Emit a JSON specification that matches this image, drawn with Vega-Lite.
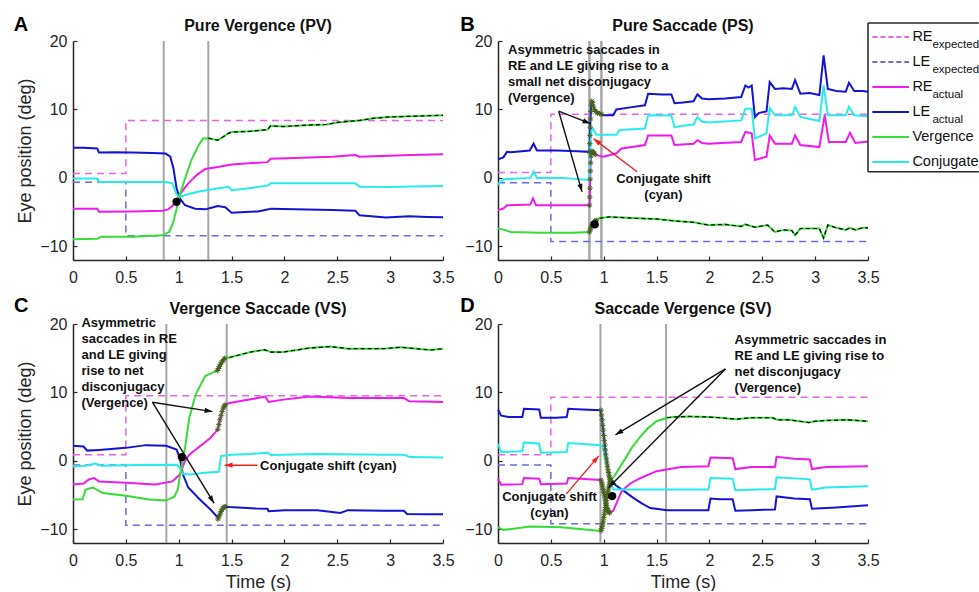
{
"$schema":"https://vega.github.io/schema/vega-lite/v6.json",
"padding":{"left":13,"top":15,"right":0,"bottom":0},
"background":"white",
"config":{
 "view":{"stroke":null},
 "font":"Liberation Sans",
 "axis":{"grid":false,"domainColor":"#262626","domainWidth":1.5,"tickColor":"#262626","tickWidth":1.2,"tickSize":-4,"labelFont":"Liberation Sans","labelFontSize":16,"labelColor":"#262626","titleFont":"Liberation Sans","titleFontSize":18,"titleFontWeight":"normal","titleColor":"#262626","labelFlush":false,"labelOverlap":false},
 "axisX":{"labelPadding":13,"titlePadding":5},
 "axisY":{"labelPadding":10,"titlePadding":5}
},
"datasets":{
"tr":[
{"p":"A","s":"REe","t":0,"v":0.65},{"p":"A","s":"REe","t":0.5,"v":8.4},{"p":"A","s":"REe","t":3.5,"v":8.4},
{"p":"A","s":"LEe","t":0,"v":-0.65},{"p":"A","s":"LEe","t":0.5,"v":-8.45},{"p":"A","s":"LEe","t":3.5,"v":-8.45},
{"p":"A","s":"LEa","t":0,"v":4.4},{"p":"A","s":"LEa","t":0.1,"v":4.4},{"p":"A","s":"LEa","t":0.23,"v":4.3},{"p":"A","s":"LEa","t":0.245,"v":3.7},{"p":"A","s":"LEa","t":0.4,"v":3.75},{"p":"A","s":"LEa","t":0.56,"v":3.7},{"p":"A","s":"LEa","t":0.75,"v":3.65},{"p":"A","s":"LEa","t":0.876,"v":3.55},{"p":"A","s":"LEa","t":0.92,"v":3.1},{"p":"A","s":"LEa","t":0.95,"v":1.4},{"p":"A","s":"LEa","t":0.98,"v":-1.55},{"p":"A","s":"LEa","t":1.01,"v":-3.0},{"p":"A","s":"LEa","t":1.06,"v":-4.0},{"p":"A","s":"LEa","t":1.155,"v":-4.5},{"p":"A","s":"LEa","t":1.25,"v":-4.6},{"p":"A","s":"LEa","t":1.3,"v":-4.4},{"p":"A","s":"LEa","t":1.37,"v":-4.1},{"p":"A","s":"LEa","t":1.44,"v":-4.3},{"p":"A","s":"LEa","t":1.5,"v":-5.1},{"p":"A","s":"LEa","t":1.63,"v":-5.0},{"p":"A","s":"LEa","t":1.75,"v":-4.9},{"p":"A","s":"LEa","t":1.85,"v":-4.6},{"p":"A","s":"LEa","t":1.87,"v":-4.5},{"p":"A","s":"LEa","t":2.1,"v":-4.6},{"p":"A","s":"LEa","t":2.45,"v":-4.7},{"p":"A","s":"LEa","t":2.67,"v":-4.8},{"p":"A","s":"LEa","t":2.71,"v":-5.45},{"p":"A","s":"LEa","t":2.96,"v":-5.8},{"p":"A","s":"LEa","t":3.18,"v":-5.6},{"p":"A","s":"LEa","t":3.35,"v":-5.7},{"p":"A","s":"LEa","t":3.5,"v":-5.75},
{"p":"A","s":"REa","t":0,"v":-4.5},{"p":"A","s":"REa","t":0.23,"v":-4.5},{"p":"A","s":"REa","t":0.246,"v":-4.95},{"p":"A","s":"REa","t":0.56,"v":-4.9},{"p":"A","s":"REa","t":0.845,"v":-4.8},{"p":"A","s":"REa","t":0.9,"v":-4.6},{"p":"A","s":"REa","t":0.94,"v":-4.1},{"p":"A","s":"REa","t":0.98,"v":-3.25},{"p":"A","s":"REa","t":1.03,"v":-2.0},{"p":"A","s":"REa","t":1.09,"v":-0.8},{"p":"A","s":"REa","t":1.17,"v":0.4},{"p":"A","s":"REa","t":1.25,"v":1.3},{"p":"A","s":"REa","t":1.37,"v":1.6},{"p":"A","s":"REa","t":1.5,"v":1.95},{"p":"A","s":"REa","t":1.63,"v":2.1},{"p":"A","s":"REa","t":1.84,"v":2.3},{"p":"A","s":"REa","t":1.87,"v":2.8},{"p":"A","s":"REa","t":2.1,"v":2.9},{"p":"A","s":"REa","t":2.45,"v":3.1},{"p":"A","s":"REa","t":2.67,"v":3.35},{"p":"A","s":"REa","t":2.71,"v":3.1},{"p":"A","s":"REa","t":2.99,"v":3.25},{"p":"A","s":"REa","t":3.2,"v":3.35},{"p":"A","s":"REa","t":3.5,"v":3.45},
{"p":"A","s":"Conj","t":0,"v":-0.1},{"p":"A","s":"Conj","t":0.23,"v":-0.1},{"p":"A","s":"Conj","t":0.246,"v":-0.6},{"p":"A","s":"Conj","t":0.6,"v":-0.6},{"p":"A","s":"Conj","t":0.876,"v":-0.6},{"p":"A","s":"Conj","t":0.94,"v":-0.8},{"p":"A","s":"Conj","t":0.98,"v":-2.4},{"p":"A","s":"Conj","t":1.01,"v":-2.8},{"p":"A","s":"Conj","t":1.06,"v":-2.5},{"p":"A","s":"Conj","t":1.19,"v":-2.0},{"p":"A","s":"Conj","t":1.32,"v":-1.65},{"p":"A","s":"Conj","t":1.47,"v":-1.3},{"p":"A","s":"Conj","t":1.5,"v":-1.8},{"p":"A","s":"Conj","t":1.63,"v":-1.6},{"p":"A","s":"Conj","t":1.85,"v":-1.1},{"p":"A","s":"Conj","t":1.87,"v":-0.8},{"p":"A","s":"Conj","t":2.2,"v":-0.8},{"p":"A","s":"Conj","t":2.67,"v":-0.8},{"p":"A","s":"Conj","t":2.71,"v":-1.3},{"p":"A","s":"Conj","t":2.99,"v":-1.35},{"p":"A","s":"Conj","t":3.2,"v":-1.25},{"p":"A","s":"Conj","t":3.5,"v":-1.2},
{"p":"A","s":"Verg","t":0,"v":-8.95},{"p":"A","s":"Verg","t":0.23,"v":-8.9},{"p":"A","s":"Verg","t":0.26,"v":-8.6},{"p":"A","s":"Verg","t":0.56,"v":-8.6},{"p":"A","s":"Verg","t":0.845,"v":-8.4},{"p":"A","s":"Verg","t":0.91,"v":-7.9},{"p":"A","s":"Verg","t":0.95,"v":-6.4},{"p":"A","s":"Verg","t":0.98,"v":-4.5},{"p":"A","s":"Verg","t":1.01,"v":-2.5},{"p":"A","s":"Verg","t":1.06,"v":-0.1},{"p":"A","s":"Verg","t":1.12,"v":2.6},{"p":"A","s":"Verg","t":1.19,"v":4.8},{"p":"A","s":"Verg","t":1.23,"v":5.75},{"p":"A","s":"Verg","t":1.28,"v":5.8},{"p":"A","s":"Verg","t":1.37,"v":5.5},{"p":"A","s":"Verg","t":1.47,"v":6.5},{"p":"A","s":"Verg","t":1.5,"v":6.7},{"p":"A","s":"Verg","t":1.68,"v":6.8},{"p":"A","s":"Verg","t":1.84,"v":7.05},{"p":"A","s":"Verg","t":1.87,"v":7.6},{"p":"A","s":"Verg","t":1.99,"v":7.5},{"p":"A","s":"Verg","t":2.2,"v":7.7},{"p":"A","s":"Verg","t":2.4,"v":7.8},{"p":"A","s":"Verg","t":2.5,"v":8.1},{"p":"A","s":"Verg","t":2.71,"v":8.4},{"p":"A","s":"Verg","t":2.84,"v":8.7},{"p":"A","s":"Verg","t":2.99,"v":8.9},{"p":"A","s":"Verg","t":3.2,"v":9.0},{"p":"A","s":"Verg","t":3.5,"v":9.15},
{"p":"B","s":"REe","t":0,"v":0.8},{"p":"B","s":"REe","t":0.5,"v":9.3},{"p":"B","s":"REe","t":3.5,"v":9.3},
{"p":"B","s":"LEe","t":0,"v":-0.7},{"p":"B","s":"LEe","t":0.5,"v":-9.3},{"p":"B","s":"LEe","t":3.5,"v":-9.3},
{"p":"B","s":"LEa","t":0,"v":2.7},{"p":"B","s":"LEa","t":0.05,"v":3.0},{"p":"B","s":"LEa","t":0.085,"v":3.8},{"p":"B","s":"LEa","t":0.12,"v":3.75},{"p":"B","s":"LEa","t":0.3,"v":4.0},{"p":"B","s":"LEa","t":0.337,"v":5.0},{"p":"B","s":"LEa","t":0.368,"v":4.0},{"p":"B","s":"LEa","t":0.557,"v":4.0},{"p":"B","s":"LEa","t":0.75,"v":3.9},{"p":"B","s":"LEa","t":0.866,"v":3.8},{"p":"B","s":"LEa","t":0.87,"v":6.2},{"p":"B","s":"LEa","t":0.875,"v":8.6},{"p":"B","s":"LEa","t":0.882,"v":10.6},{"p":"B","s":"LEa","t":0.887,"v":11.2},{"p":"B","s":"LEa","t":0.9,"v":10.5},{"p":"B","s":"LEa","t":0.925,"v":9.7},{"p":"B","s":"LEa","t":0.96,"v":9.4},{"p":"B","s":"LEa","t":0.998,"v":9.15},{"p":"B","s":"LEa","t":1.09,"v":9.15},{"p":"B","s":"LEa","t":1.12,"v":10.0},{"p":"B","s":"LEa","t":1.25,"v":10.3},{"p":"B","s":"LEa","t":1.39,"v":10.6},{"p":"B","s":"LEa","t":1.42,"v":12.3},{"p":"B","s":"LEa","t":1.55,"v":12.2},{"p":"B","s":"LEa","t":1.64,"v":12.2},{"p":"B","s":"LEa","t":1.67,"v":10.9},{"p":"B","s":"LEa","t":1.75,"v":11.0},{"p":"B","s":"LEa","t":1.85,"v":11.2},{"p":"B","s":"LEa","t":1.886,"v":12.2},{"p":"B","s":"LEa","t":1.93,"v":11.6},{"p":"B","s":"LEa","t":1.99,"v":11.5},{"p":"B","s":"LEa","t":2.15,"v":11.6},{"p":"B","s":"LEa","t":2.3,"v":11.8},{"p":"B","s":"LEa","t":2.34,"v":13.5},{"p":"B","s":"LEa","t":2.37,"v":13.2},{"p":"B","s":"LEa","t":2.4,"v":13.5},{"p":"B","s":"LEa","t":2.43,"v":8.9},{"p":"B","s":"LEa","t":2.47,"v":9.5},{"p":"B","s":"LEa","t":2.54,"v":9.7},{"p":"B","s":"LEa","t":2.57,"v":14.0},{"p":"B","s":"LEa","t":2.62,"v":13.0},{"p":"B","s":"LEa","t":2.7,"v":13.1},{"p":"B","s":"LEa","t":2.78,"v":13.0},{"p":"B","s":"LEa","t":2.81,"v":14.3},{"p":"B","s":"LEa","t":2.86,"v":12.3},{"p":"B","s":"LEa","t":2.95,"v":12.4},{"p":"B","s":"LEa","t":3.04,"v":12.1},{"p":"B","s":"LEa","t":3.08,"v":17.9},{"p":"B","s":"LEa","t":3.12,"v":13.0},{"p":"B","s":"LEa","t":3.2,"v":12.7},{"p":"B","s":"LEa","t":3.29,"v":12.6},{"p":"B","s":"LEa","t":3.32,"v":13.9},{"p":"B","s":"LEa","t":3.37,"v":12.7},{"p":"B","s":"LEa","t":3.45,"v":12.7},{"p":"B","s":"LEa","t":3.5,"v":12.6},
{"p":"B","s":"REa","t":0,"v":-4.7},{"p":"B","s":"REa","t":0.05,"v":-4.5},{"p":"B","s":"REa","t":0.085,"v":-4.0},{"p":"B","s":"REa","t":0.305,"v":-3.9},{"p":"B","s":"REa","t":0.33,"v":-3.0},{"p":"B","s":"REa","t":0.36,"v":-4.0},{"p":"B","s":"REa","t":0.6,"v":-4.0},{"p":"B","s":"REa","t":0.866,"v":-4.0},{"p":"B","s":"REa","t":0.87,"v":-1.5},{"p":"B","s":"REa","t":0.876,"v":2.2},{"p":"B","s":"REa","t":0.884,"v":3.7},{"p":"B","s":"REa","t":0.9,"v":3.8},{"p":"B","s":"REa","t":0.92,"v":3.4},{"p":"B","s":"REa","t":0.998,"v":3.1},{"p":"B","s":"REa","t":1.12,"v":3.6},{"p":"B","s":"REa","t":1.17,"v":4.3},{"p":"B","s":"REa","t":1.39,"v":4.8},{"p":"B","s":"REa","t":1.42,"v":6.2},{"p":"B","s":"REa","t":1.64,"v":6.2},{"p":"B","s":"REa","t":1.67,"v":4.8},{"p":"B","s":"REa","t":1.85,"v":5.0},{"p":"B","s":"REa","t":1.886,"v":5.5},{"p":"B","s":"REa","t":1.93,"v":5.1},{"p":"B","s":"REa","t":1.99,"v":5.0},{"p":"B","s":"REa","t":2.3,"v":5.25},{"p":"B","s":"REa","t":2.34,"v":6.7},{"p":"B","s":"REa","t":2.4,"v":6.5},{"p":"B","s":"REa","t":2.43,"v":2.6},{"p":"B","s":"REa","t":2.54,"v":3.1},{"p":"B","s":"REa","t":2.57,"v":6.2},{"p":"B","s":"REa","t":2.62,"v":5.0},{"p":"B","s":"REa","t":2.78,"v":5.0},{"p":"B","s":"REa","t":2.81,"v":6.2},{"p":"B","s":"REa","t":2.86,"v":4.8},{"p":"B","s":"REa","t":3.04,"v":4.5},{"p":"B","s":"REa","t":3.09,"v":9.15},{"p":"B","s":"REa","t":3.13,"v":5.25},{"p":"B","s":"REa","t":3.29,"v":5.25},{"p":"B","s":"REa","t":3.33,"v":6.6},{"p":"B","s":"REa","t":3.38,"v":5.1},{"p":"B","s":"REa","t":3.5,"v":5.3},
{"p":"B","s":"Conj","t":0,"v":-1.0},{"p":"B","s":"Conj","t":0.05,"v":-0.2},{"p":"B","s":"Conj","t":0.305,"v":0.0},{"p":"B","s":"Conj","t":0.337,"v":0.9},{"p":"B","s":"Conj","t":0.368,"v":0.0},{"p":"B","s":"Conj","t":0.6,"v":0.0},{"p":"B","s":"Conj","t":0.866,"v":-0.3},{"p":"B","s":"Conj","t":0.87,"v":2.3},{"p":"B","s":"Conj","t":0.876,"v":5.4},{"p":"B","s":"Conj","t":0.884,"v":7.0},{"p":"B","s":"Conj","t":0.898,"v":7.2},{"p":"B","s":"Conj","t":0.93,"v":6.3},{"p":"B","s":"Conj","t":0.998,"v":6.3},{"p":"B","s":"Conj","t":1.12,"v":6.3},{"p":"B","s":"Conj","t":1.15,"v":7.0},{"p":"B","s":"Conj","t":1.39,"v":7.2},{"p":"B","s":"Conj","t":1.42,"v":9.15},{"p":"B","s":"Conj","t":1.64,"v":9.1},{"p":"B","s":"Conj","t":1.67,"v":7.4},{"p":"B","s":"Conj","t":1.75,"v":7.6},{"p":"B","s":"Conj","t":1.85,"v":7.8},{"p":"B","s":"Conj","t":1.886,"v":8.9},{"p":"B","s":"Conj","t":1.93,"v":8.2},{"p":"B","s":"Conj","t":1.99,"v":8.1},{"p":"B","s":"Conj","t":2.3,"v":8.4},{"p":"B","s":"Conj","t":2.34,"v":10.1},{"p":"B","s":"Conj","t":2.4,"v":10.1},{"p":"B","s":"Conj","t":2.43,"v":5.75},{"p":"B","s":"Conj","t":2.54,"v":6.5},{"p":"B","s":"Conj","t":2.57,"v":10.2},{"p":"B","s":"Conj","t":2.62,"v":9.15},{"p":"B","s":"Conj","t":2.78,"v":9.15},{"p":"B","s":"Conj","t":2.81,"v":10.4},{"p":"B","s":"Conj","t":2.86,"v":8.9},{"p":"B","s":"Conj","t":3.04,"v":8.3},{"p":"B","s":"Conj","t":3.08,"v":13.5},{"p":"B","s":"Conj","t":3.12,"v":9.15},{"p":"B","s":"Conj","t":3.29,"v":9.15},{"p":"B","s":"Conj","t":3.32,"v":10.4},{"p":"B","s":"Conj","t":3.37,"v":9.15},{"p":"B","s":"Conj","t":3.5,"v":9.0},
{"p":"B","s":"Verg","t":0,"v":-7.4},{"p":"B","s":"Verg","t":0.06,"v":-7.6},{"p":"B","s":"Verg","t":0.12,"v":-7.9},{"p":"B","s":"Verg","t":0.4,"v":-8.0},{"p":"B","s":"Verg","t":0.7,"v":-8.0},{"p":"B","s":"Verg","t":0.866,"v":-7.9},{"p":"B","s":"Verg","t":0.885,"v":-7.0},{"p":"B","s":"Verg","t":0.9,"v":-6.6},{"p":"B","s":"Verg","t":0.93,"v":-6.2},{"p":"B","s":"Verg","t":0.96,"v":-5.9},{"p":"B","s":"Verg","t":1.05,"v":-5.7},{"p":"B","s":"Verg","t":1.18,"v":-5.8},{"p":"B","s":"Verg","t":1.3,"v":-5.9},{"p":"B","s":"Verg","t":1.5,"v":-6.0},{"p":"B","s":"Verg","t":1.68,"v":-6.3},{"p":"B","s":"Verg","t":1.85,"v":-6.5},{"p":"B","s":"Verg","t":1.99,"v":-6.9},{"p":"B","s":"Verg","t":2.15,"v":-6.8},{"p":"B","s":"Verg","t":2.3,"v":-7.1},{"p":"B","s":"Verg","t":2.34,"v":-6.8},{"p":"B","s":"Verg","t":2.43,"v":-7.2},{"p":"B","s":"Verg","t":2.55,"v":-6.9},{"p":"B","s":"Verg","t":2.62,"v":-7.9},{"p":"B","s":"Verg","t":2.7,"v":-7.6},{"p":"B","s":"Verg","t":2.78,"v":-7.7},{"p":"B","s":"Verg","t":2.81,"v":-8.4},{"p":"B","s":"Verg","t":2.86,"v":-7.4},{"p":"B","s":"Verg","t":3.04,"v":-7.4},{"p":"B","s":"Verg","t":3.08,"v":-8.8},{"p":"B","s":"Verg","t":3.12,"v":-6.9},{"p":"B","s":"Verg","t":3.2,"v":-7.3},{"p":"B","s":"Verg","t":3.29,"v":-7.6},{"p":"B","s":"Verg","t":3.33,"v":-7.3},{"p":"B","s":"Verg","t":3.38,"v":-7.6},{"p":"B","s":"Verg","t":3.45,"v":-7.3},{"p":"B","s":"Verg","t":3.5,"v":-7.3},
{"p":"C","s":"REe","t":0,"v":0.9},{"p":"C","s":"REe","t":0.5,"v":9.5},{"p":"C","s":"REe","t":3.5,"v":9.5},
{"p":"C","s":"LEe","t":0,"v":-0.6},{"p":"C","s":"LEe","t":0.5,"v":-9.4},{"p":"C","s":"LEe","t":3.5,"v":-9.4},
{"p":"C","s":"LEa","t":0,"v":2.2},{"p":"C","s":"LEa","t":0.1,"v":2.1},{"p":"C","s":"LEa","t":0.135,"v":1.5},{"p":"C","s":"LEa","t":0.245,"v":1.6},{"p":"C","s":"LEa","t":0.5,"v":1.9},{"p":"C","s":"LEa","t":0.69,"v":2.3},{"p":"C","s":"LEa","t":0.88,"v":2.2},{"p":"C","s":"LEa","t":0.98,"v":1.65},{"p":"C","s":"LEa","t":1.01,"v":0.4},{"p":"C","s":"LEa","t":1.04,"v":-2.0},{"p":"C","s":"LEa","t":1.09,"v":-3.9},{"p":"C","s":"LEa","t":1.2,"v":-5.65},{"p":"C","s":"LEa","t":1.3,"v":-7.1},{"p":"C","s":"LEa","t":1.37,"v":-8.3},{"p":"C","s":"LEa","t":1.39,"v":-7.8},{"p":"C","s":"LEa","t":1.42,"v":-6.9},{"p":"C","s":"LEa","t":1.445,"v":-6.7},{"p":"C","s":"LEa","t":1.48,"v":-6.75},{"p":"C","s":"LEa","t":1.73,"v":-6.95},{"p":"C","s":"LEa","t":1.84,"v":-7.0},{"p":"C","s":"LEa","t":1.85,"v":-7.35},{"p":"C","s":"LEa","t":2.0,"v":-7.2},{"p":"C","s":"LEa","t":2.31,"v":-7.2},{"p":"C","s":"LEa","t":2.53,"v":-7.6},{"p":"C","s":"LEa","t":2.6,"v":-7.2},{"p":"C","s":"LEa","t":2.94,"v":-7.3},{"p":"C","s":"LEa","t":3.13,"v":-7.3},{"p":"C","s":"LEa","t":3.16,"v":-7.75},{"p":"C","s":"LEa","t":3.35,"v":-7.8},{"p":"C","s":"LEa","t":3.5,"v":-7.8},
{"p":"C","s":"REa","t":0,"v":-3.45},{"p":"C","s":"REa","t":0.1,"v":-3.3},{"p":"C","s":"REa","t":0.15,"v":-2.7},{"p":"C","s":"REa","t":0.2,"v":-2.5},{"p":"C","s":"REa","t":0.245,"v":-3.0},{"p":"C","s":"REa","t":0.5,"v":-3.2},{"p":"C","s":"REa","t":0.78,"v":-3.45},{"p":"C","s":"REa","t":0.94,"v":-3.0},{"p":"C","s":"REa","t":1.01,"v":-2.0},{"p":"C","s":"REa","t":1.06,"v":0.0},{"p":"C","s":"REa","t":1.1,"v":0.9},{"p":"C","s":"REa","t":1.2,"v":2.15},{"p":"C","s":"REa","t":1.3,"v":3.35},{"p":"C","s":"REa","t":1.37,"v":4.6},{"p":"C","s":"REa","t":1.39,"v":6.0},{"p":"C","s":"REa","t":1.42,"v":7.7},{"p":"C","s":"REa","t":1.445,"v":8.2},{"p":"C","s":"REa","t":1.48,"v":8.45},{"p":"C","s":"REa","t":1.68,"v":9.0},{"p":"C","s":"REa","t":1.82,"v":9.4},{"p":"C","s":"REa","t":1.85,"v":8.6},{"p":"C","s":"REa","t":1.99,"v":8.95},{"p":"C","s":"REa","t":2.24,"v":9.4},{"p":"C","s":"REa","t":2.62,"v":9.2},{"p":"C","s":"REa","t":3.13,"v":9.2},{"p":"C","s":"REa","t":3.18,"v":8.7},{"p":"C","s":"REa","t":3.5,"v":8.6},
{"p":"C","s":"Conj","t":0,"v":-0.8},{"p":"C","s":"Conj","t":0.12,"v":-0.7},{"p":"C","s":"Conj","t":0.21,"v":-0.4},{"p":"C","s":"Conj","t":0.27,"v":-0.7},{"p":"C","s":"Conj","t":0.6,"v":-0.6},{"p":"C","s":"Conj","t":0.98,"v":-0.55},{"p":"C","s":"Conj","t":1.01,"v":-1.0},{"p":"C","s":"Conj","t":1.04,"v":-1.9},{"p":"C","s":"Conj","t":1.1,"v":-2.0},{"p":"C","s":"Conj","t":1.25,"v":-1.75},{"p":"C","s":"Conj","t":1.38,"v":-1.6},{"p":"C","s":"Conj","t":1.4,"v":0.7},{"p":"C","s":"Conj","t":1.5,"v":0.9},{"p":"C","s":"Conj","t":1.68,"v":1.0},{"p":"C","s":"Conj","t":1.84,"v":1.2},{"p":"C","s":"Conj","t":1.87,"v":0.85},{"p":"C","s":"Conj","t":2.31,"v":1.0},{"p":"C","s":"Conj","t":2.94,"v":0.9},{"p":"C","s":"Conj","t":3.13,"v":0.9},{"p":"C","s":"Conj","t":3.19,"v":0.55},{"p":"C","s":"Conj","t":3.5,"v":0.5},
{"p":"C","s":"Verg","t":0,"v":-5.65},{"p":"C","s":"Verg","t":0.09,"v":-5.6},{"p":"C","s":"Verg","t":0.12,"v":-4.2},{"p":"C","s":"Verg","t":0.19,"v":-3.9},{"p":"C","s":"Verg","t":0.28,"v":-4.7},{"p":"C","s":"Verg","t":0.5,"v":-5.1},{"p":"C","s":"Verg","t":0.72,"v":-5.65},{"p":"C","s":"Verg","t":0.88,"v":-5.8},{"p":"C","s":"Verg","t":0.96,"v":-5.2},{"p":"C","s":"Verg","t":0.99,"v":-4.2},{"p":"C","s":"Verg","t":1.02,"v":-1.5},{"p":"C","s":"Verg","t":1.06,"v":1.9},{"p":"C","s":"Verg","t":1.1,"v":6.3},{"p":"C","s":"Verg","t":1.16,"v":9.7},{"p":"C","s":"Verg","t":1.25,"v":12.4},{"p":"C","s":"Verg","t":1.365,"v":13.2},{"p":"C","s":"Verg","t":1.395,"v":14.1},{"p":"C","s":"Verg","t":1.435,"v":15.0},{"p":"C","s":"Verg","t":1.48,"v":15.1},{"p":"C","s":"Verg","t":1.68,"v":15.9},{"p":"C","s":"Verg","t":1.81,"v":16.25},{"p":"C","s":"Verg","t":1.87,"v":15.9},{"p":"C","s":"Verg","t":1.99,"v":15.9},{"p":"C","s":"Verg","t":2.24,"v":16.5},{"p":"C","s":"Verg","t":2.43,"v":16.7},{"p":"C","s":"Verg","t":2.6,"v":16.4},{"p":"C","s":"Verg","t":2.94,"v":16.4},{"p":"C","s":"Verg","t":3.1,"v":16.6},{"p":"C","s":"Verg","t":3.38,"v":16.2},{"p":"C","s":"Verg","t":3.5,"v":16.4},
{"p":"D","s":"REe","t":0,"v":0.9},{"p":"D","s":"REe","t":0.5,"v":9.3},{"p":"D","s":"REe","t":3.5,"v":9.3},
{"p":"D","s":"LEe","t":0,"v":-0.6},{"p":"D","s":"LEe","t":0.5,"v":-9.2},{"p":"D","s":"LEe","t":3.5,"v":-9.2},
{"p":"D","s":"LEa","t":0,"v":7.5},{"p":"D","s":"LEa","t":0.03,"v":6.6},{"p":"D","s":"LEa","t":0.1,"v":6.4},{"p":"D","s":"LEa","t":0.23,"v":6.4},{"p":"D","s":"LEa","t":0.245,"v":7.6},{"p":"D","s":"LEa","t":0.39,"v":7.5},{"p":"D","s":"LEa","t":0.405,"v":6.3},{"p":"D","s":"LEa","t":0.55,"v":6.3},{"p":"D","s":"LEa","t":0.65,"v":6.4},{"p":"D","s":"LEa","t":0.665,"v":7.6},{"p":"D","s":"LEa","t":0.8,"v":7.5},{"p":"D","s":"LEa","t":0.97,"v":7.4},{"p":"D","s":"LEa","t":0.985,"v":6.0},{"p":"D","s":"LEa","t":1.005,"v":3.0},{"p":"D","s":"LEa","t":1.025,"v":0.3},{"p":"D","s":"LEa","t":1.045,"v":-1.7},{"p":"D","s":"LEa","t":1.075,"v":-3.1},{"p":"D","s":"LEa","t":1.127,"v":-3.7},{"p":"D","s":"LEa","t":1.2,"v":-4.5},{"p":"D","s":"LEa","t":1.28,"v":-5.4},{"p":"D","s":"LEa","t":1.36,"v":-6.2},{"p":"D","s":"LEa","t":1.44,"v":-6.9},{"p":"D","s":"LEa","t":1.6,"v":-7.2},{"p":"D","s":"LEa","t":1.8,"v":-7.2},{"p":"D","s":"LEa","t":1.99,"v":-7.2},{"p":"D","s":"LEa","t":2.01,"v":-5.5},{"p":"D","s":"LEa","t":2.1,"v":-5.6},{"p":"D","s":"LEa","t":2.22,"v":-5.6},{"p":"D","s":"LEa","t":2.245,"v":-7.3},{"p":"D","s":"LEa","t":2.4,"v":-7.2},{"p":"D","s":"LEa","t":2.62,"v":-7.1},{"p":"D","s":"LEa","t":2.635,"v":-5.2},{"p":"D","s":"LEa","t":2.8,"v":-5.5},{"p":"D","s":"LEa","t":2.95,"v":-5.6},{"p":"D","s":"LEa","t":2.97,"v":-7.0},{"p":"D","s":"LEa","t":3.2,"v":-6.8},{"p":"D","s":"LEa","t":3.5,"v":-6.5},
{"p":"D","s":"REa","t":0,"v":-2.6},{"p":"D","s":"REa","t":0.03,"v":-3.5},{"p":"D","s":"REa","t":0.23,"v":-3.4},{"p":"D","s":"REa","t":0.245,"v":-2.5},{"p":"D","s":"REa","t":0.39,"v":-2.6},{"p":"D","s":"REa","t":0.405,"v":-3.4},{"p":"D","s":"REa","t":0.65,"v":-3.3},{"p":"D","s":"REa","t":0.665,"v":-2.5},{"p":"D","s":"REa","t":0.97,"v":-2.8},{"p":"D","s":"REa","t":1.005,"v":-5.0},{"p":"D","s":"REa","t":1.035,"v":-7.0},{"p":"D","s":"REa","t":1.055,"v":-7.6},{"p":"D","s":"REa","t":1.09,"v":-7.3},{"p":"D","s":"REa","t":1.17,"v":-4.4},{"p":"D","s":"REa","t":1.25,"v":-3.3},{"p":"D","s":"REa","t":1.35,"v":-2.5},{"p":"D","s":"REa","t":1.5,"v":-1.5},{"p":"D","s":"REa","t":1.73,"v":-0.9},{"p":"D","s":"REa","t":1.99,"v":-0.8},{"p":"D","s":"REa","t":2.01,"v":0.5},{"p":"D","s":"REa","t":2.22,"v":0.4},{"p":"D","s":"REa","t":2.245,"v":-1.2},{"p":"D","s":"REa","t":2.4,"v":-0.9},{"p":"D","s":"REa","t":2.62,"v":-0.9},{"p":"D","s":"REa","t":2.635,"v":0.6},{"p":"D","s":"REa","t":2.8,"v":0.3},{"p":"D","s":"REa","t":2.95,"v":0.2},{"p":"D","s":"REa","t":2.97,"v":-1.2},{"p":"D","s":"REa","t":3.1,"v":-0.9},{"p":"D","s":"REa","t":3.5,"v":-0.8},
{"p":"D","s":"Conj","t":0,"v":2.5},{"p":"D","s":"Conj","t":0.03,"v":1.3},{"p":"D","s":"Conj","t":0.23,"v":1.4},{"p":"D","s":"Conj","t":0.245,"v":2.7},{"p":"D","s":"Conj","t":0.39,"v":2.5},{"p":"D","s":"Conj","t":0.405,"v":1.2},{"p":"D","s":"Conj","t":0.65,"v":1.3},{"p":"D","s":"Conj","t":0.665,"v":2.6},{"p":"D","s":"Conj","t":0.97,"v":2.3},{"p":"D","s":"Conj","t":0.99,"v":2.1},{"p":"D","s":"Conj","t":1.02,"v":0.0},{"p":"D","s":"Conj","t":1.047,"v":-1.5},{"p":"D","s":"Conj","t":1.07,"v":-3.5},{"p":"D","s":"Conj","t":1.095,"v":-4.2},{"p":"D","s":"Conj","t":1.3,"v":-4.2},{"p":"D","s":"Conj","t":1.99,"v":-4.2},{"p":"D","s":"Conj","t":2.01,"v":-2.5},{"p":"D","s":"Conj","t":2.22,"v":-2.6},{"p":"D","s":"Conj","t":2.245,"v":-4.3},{"p":"D","s":"Conj","t":2.62,"v":-4.1},{"p":"D","s":"Conj","t":2.635,"v":-2.4},{"p":"D","s":"Conj","t":2.95,"v":-2.7},{"p":"D","s":"Conj","t":2.97,"v":-4.2},{"p":"D","s":"Conj","t":3.1,"v":-3.9},{"p":"D","s":"Conj","t":3.5,"v":-3.7},
{"p":"D","s":"Verg","t":0,"v":-9.7},{"p":"D","s":"Verg","t":0.05,"v":-10.1},{"p":"D","s":"Verg","t":0.3,"v":-9.6},{"p":"D","s":"Verg","t":0.6,"v":-9.7},{"p":"D","s":"Verg","t":0.95,"v":-10.2},{"p":"D","s":"Verg","t":0.975,"v":-10.2},{"p":"D","s":"Verg","t":1.005,"v":-7.8},{"p":"D","s":"Verg","t":1.035,"v":-4.9},{"p":"D","s":"Verg","t":1.065,"v":-2.9},{"p":"D","s":"Verg","t":1.11,"v":-2.0},{"p":"D","s":"Verg","t":1.19,"v":0.0},{"p":"D","s":"Verg","t":1.27,"v":2.0},{"p":"D","s":"Verg","t":1.35,"v":3.6},{"p":"D","s":"Verg","t":1.42,"v":4.8},{"p":"D","s":"Verg","t":1.5,"v":5.8},{"p":"D","s":"Verg","t":1.6,"v":6.3},{"p":"D","s":"Verg","t":1.65,"v":6.4},{"p":"D","s":"Verg","t":1.8,"v":6.5},{"p":"D","s":"Verg","t":2.0,"v":6.4},{"p":"D","s":"Verg","t":2.1,"v":6.3},{"p":"D","s":"Verg","t":2.25,"v":6.1},{"p":"D","s":"Verg","t":2.4,"v":6.3},{"p":"D","s":"Verg","t":2.6,"v":6.3},{"p":"D","s":"Verg","t":2.64,"v":6.0},{"p":"D","s":"Verg","t":2.75,"v":6.0},{"p":"D","s":"Verg","t":2.85,"v":5.8},{"p":"D","s":"Verg","t":2.94,"v":5.6},{"p":"D","s":"Verg","t":3.0,"v":5.8},{"p":"D","s":"Verg","t":3.1,"v":5.9},{"p":"D","s":"Verg","t":3.3,"v":6.0},{"p":"D","s":"Verg","t":3.5,"v":5.8}
],
"vl":[{"p":"A","t":0.858},{"p":"A","t":1.28},{"p":"B","t":0.865},{"p":"B","t":0.978},{"p":"C","t":0.883},{"p":"C","t":1.454},{"p":"D","t":0.969},{"p":"D","t":1.59}],
"dt":[{"p":"A","t":0.98,"v":-3.5},{"p":"B","t":0.915,"v":-6.8},{"p":"C","t":1.03,"v":0.55},{"p":"D","t":1.08,"v":-5.15}],
"hd":[{"p":"A","ti":"Pure Vergence (PV)","le":"A"},{"p":"B","ti":"Pure Saccade (PS)","le":"B"},{"p":"C","ti":"Vergence Saccade (VS)","le":"C"},{"p":"D","ti":"Saccade Vergence (SV)","le":"D"}],
"st":[
{"p":"B","t":0.866,"v":-4.0},{"p":"B","t":0.868,"v":-2.8},{"p":"B","t":0.87,"v":-1.5},{"p":"B","t":0.872,"v":-0.2},{"p":"B","t":0.874,"v":1.0},{"p":"B","t":0.876,"v":2.2},{"p":"B","t":0.879,"v":3.2},{"p":"B","t":0.884,"v":3.7},{"p":"B","t":0.89,"v":3.9},{"p":"B","t":0.9,"v":3.8},{"p":"B","t":0.91,"v":3.6},{"p":"B","t":0.92,"v":3.4},
{"p":"B","t":0.866,"v":3.8},{"p":"B","t":0.868,"v":5.0},{"p":"B","t":0.87,"v":6.2},{"p":"B","t":0.872,"v":7.4},{"p":"B","t":0.875,"v":8.6},{"p":"B","t":0.878,"v":9.7},{"p":"B","t":0.882,"v":10.6},{"p":"B","t":0.887,"v":11.2},{"p":"B","t":0.893,"v":11.0},{"p":"B","t":0.9,"v":10.5},{"p":"B","t":0.91,"v":10.0},{"p":"B","t":0.925,"v":9.7},{"p":"B","t":0.94,"v":9.5},{"p":"B","t":0.96,"v":9.4},{"p":"B","t":0.98,"v":9.3},
{"p":"B","t":0.866,"v":-7.9},{"p":"B","t":0.872,"v":-7.6},{"p":"B","t":0.878,"v":-7.3},{"p":"B","t":0.885,"v":-7.0},{"p":"B","t":0.892,"v":-6.8},{"p":"B","t":0.9,"v":-6.6},{"p":"B","t":0.91,"v":-6.4},{"p":"B","t":0.92,"v":-6.3},{"p":"B","t":0.93,"v":-6.2},
{"p":"C","t":1.365,"v":13.2},{"p":"C","t":1.375,"v":13.5},{"p":"C","t":1.385,"v":13.8},{"p":"C","t":1.395,"v":14.1},{"p":"C","t":1.405,"v":14.4},{"p":"C","t":1.415,"v":14.6},{"p":"C","t":1.425,"v":14.8},{"p":"C","t":1.435,"v":15.0},
{"p":"C","t":1.37,"v":4.6},{"p":"C","t":1.38,"v":5.3},{"p":"C","t":1.39,"v":6.0},{"p":"C","t":1.4,"v":6.6},{"p":"C","t":1.41,"v":7.2},{"p":"C","t":1.42,"v":7.7},{"p":"C","t":1.43,"v":8.0},{"p":"C","t":1.44,"v":8.2},
{"p":"C","t":1.37,"v":-8.5},{"p":"C","t":1.38,"v":-8.2},{"p":"C","t":1.39,"v":-7.8},{"p":"C","t":1.4,"v":-7.4},{"p":"C","t":1.41,"v":-7.1},{"p":"C","t":1.42,"v":-6.9},{"p":"C","t":1.43,"v":-6.7},{"p":"C","t":1.44,"v":-6.7},
{"p":"D","t":0.975,"v":7.4},{"p":"D","t":0.98,"v":6.7},{"p":"D","t":0.985,"v":6.0},{"p":"D","t":0.99,"v":5.2},{"p":"D","t":0.995,"v":4.5},{"p":"D","t":1.0,"v":3.7},{"p":"D","t":1.005,"v":3.0},{"p":"D","t":1.01,"v":2.3},{"p":"D","t":1.015,"v":1.6},{"p":"D","t":1.02,"v":0.9},{"p":"D","t":1.025,"v":0.3},{"p":"D","t":1.03,"v":-0.3},{"p":"D","t":1.035,"v":-0.8},{"p":"D","t":1.04,"v":-1.3},{"p":"D","t":1.045,"v":-1.7},{"p":"D","t":1.05,"v":-2.1},{"p":"D","t":1.055,"v":-2.4},{"p":"D","t":1.06,"v":-2.7},{"p":"D","t":1.065,"v":-2.9},{"p":"D","t":1.07,"v":-3.0},{"p":"D","t":1.075,"v":-3.1},
{"p":"D","t":0.975,"v":-2.8},{"p":"D","t":0.98,"v":-3.1},{"p":"D","t":0.985,"v":-3.4},{"p":"D","t":0.99,"v":-3.8},{"p":"D","t":0.995,"v":-4.2},{"p":"D","t":1.0,"v":-4.6},{"p":"D","t":1.005,"v":-5.0},{"p":"D","t":1.01,"v":-5.4},{"p":"D","t":1.015,"v":-5.8},{"p":"D","t":1.02,"v":-6.2},{"p":"D","t":1.025,"v":-6.5},{"p":"D","t":1.03,"v":-6.8},{"p":"D","t":1.035,"v":-7.0},{"p":"D","t":1.04,"v":-7.2},{"p":"D","t":1.045,"v":-7.4},{"p":"D","t":1.05,"v":-7.5},{"p":"D","t":1.055,"v":-7.6},
{"p":"D","t":0.975,"v":-10.2},{"p":"D","t":0.98,"v":-9.9},{"p":"D","t":0.985,"v":-9.6},{"p":"D","t":0.99,"v":-9.2},{"p":"D","t":0.995,"v":-8.8},{"p":"D","t":1.0,"v":-8.3},{"p":"D","t":1.005,"v":-7.8},{"p":"D","t":1.01,"v":-7.3},{"p":"D","t":1.015,"v":-6.8},{"p":"D","t":1.02,"v":-6.3},{"p":"D","t":1.025,"v":-5.8},{"p":"D","t":1.03,"v":-5.3},{"p":"D","t":1.035,"v":-4.9},{"p":"D","t":1.04,"v":-4.5},{"p":"D","t":1.045,"v":-4.1},{"p":"D","t":1.05,"v":-3.7},{"p":"D","t":1.055,"v":-3.4},{"p":"D","t":1.06,"v":-3.1},{"p":"D","t":1.065,"v":-2.9}
],
"ar":[
{"p":"B","k":"v","t":0.574,"v":9.74,"t2":0.874,"v2":7.94,"ang":111.2},
{"p":"B","k":"v","t":0.574,"v":9.74,"t2":0.795,"v2":-2.04,"ang":163.9},
{"p":"B","k":"c","t":1.316,"v":0.9,"t2":0.905,"v2":5.7,"ang":307.2},
{"p":"C","k":"v","t":0.751,"v":8.57,"t2":1.319,"v2":7.2,"ang":98.9},
{"p":"C","k":"v","t":0.751,"v":8.57,"t2":1.334,"v2":-6.18,"ang":148.6},
{"p":"C","k":"c","t":1.745,"v":-0.63,"t2":1.435,"v2":-0.63,"ang":270},
{"p":"D","k":"v","t":2.152,"v":13.43,"t2":1.111,"v2":3.8,"ang":239},
{"p":"D","k":"v","t":2.152,"v":13.43,"t2":1.047,"v2":-3.9,"ang":224.5},
{"p":"D","k":"c","t":0.647,"v":-4.82,"t2":0.953,"v2":0.73,"ang":40.4}
],
"nl":[
{"p":"B","t":0.095,"v":18.16,"txt":"Asymmetric saccades in\nRE and LE giving rise to a\nsmall net disconjugacy\n(Vergence)"},
{"p":"C","t":0.08,"v":19.6,"txt":"Asymmetric\nsaccades in RE\nand LE giving\nrise to net\ndisconjugacy\n(Vergence)"},
{"p":"C","t":1.77,"v":-1.31,"txt":"Conjugate shift (cyan)"},
{"p":"D","t":2.238,"v":17.03,"txt":"Asymmetric saccades in\nRE and LE giving rise to\nnet disconjugacy\n(Vergence)"}
],
"nc":[
{"p":"B","t":1.565,"v":-0.73,"txt":"Conjugate shift\n(cyan)"},
{"p":"D","t":0.487,"v":-5.9,"txt":"Conjugate shift\n(cyan)"}
],
"leg":[
{"s":"REe","lab":"RE","sub":"expected"},
{"s":"LEe","lab":"LE","sub":"expected"},
{"s":"REa","lab":"RE","sub":"actual"},
{"s":"LEa","lab":"LE","sub":"actual"},
{"s":"Verg","lab":"Vergence","sub":""},
{"s":"Conj","lab":"Conjugate","sub":""}
]
},
"columns":2,
"spacing":{"row":64,"column":55},
"bounds":"flush",
"concat":[
{
"width":370,"height":219,
"layer":[
{"data":{"name":"vl"},"transform":[{"filter":"datum.p==='A'"}],"mark":{"type":"rule","color":"#a6a6a6","strokeWidth":2},"encoding":{"x":{"field":"t","type":"quantitative","scale":{"domain":[0,3.5],"nice":false,"zero":false}}}},
{"data":{"name":"tr"},"transform":[{"filter":"datum.p==='A' && (datum.s==='REe' || datum.s==='LEe')"}],"mark":{"type":"line","interpolate":"step-after","strokeDash":[7,5],"strokeWidth":1.5},"encoding":{"x":{"field":"t","type":"quantitative","scale":{"domain":[0,3.5],"nice":false,"zero":false}},"y":{"field":"v","type":"quantitative","scale":{"domain":[-12,20],"nice":false,"zero":false}},"color":{"field":"s","type":"nominal","scale":{"domain":["REe","LEe","REa","LEa","Verg","Conj"],"range":["#e466e4","#6b6bd9","#ee1aee","#1414d6","#38dc38","#28ecec"]},"legend":null}}},
{"data":{"name":"tr"},"transform":[{"filter":"datum.p==='A' && datum.s!=='REe' && datum.s!=='LEe'"}],"mark":{"type":"line","strokeWidth":2},"encoding":{"x":{"field":"t","type":"quantitative","scale":{"domain":[0,3.5],"nice":false,"zero":false},"axis":{"values":[0,0.5,1,1.5,2,2.5,3,3.5],"format":"~g","title":null}},"y":{"field":"v","type":"quantitative","scale":{"domain":[-12,20],"nice":false,"zero":false},"axis":{"values":[-10,-5,0,5,10,15,20],"format":"~g","title":"Eye position (deg)"}},"color":{"field":"s","type":"nominal","scale":{"domain":["REe","LEe","REa","LEa","Verg","Conj"],"range":["#e466e4","#6b6bd9","#ee1aee","#1414d6","#38dc38","#28ecec"]},"legend":null}}},
{"data":{"name":"tr"},"transform":[{"filter":"datum.p==='A' && datum.s==='Verg' && datum.t>=1.28"}],"mark":{"type":"line","color":"#000000","strokeDash":[4,3],"strokeWidth":1.2},"encoding":{"x":{"field":"t","type":"quantitative","scale":{"domain":[0,3.5],"nice":false,"zero":false}},"y":{"field":"v","type":"quantitative","scale":{"domain":[-12,20],"nice":false,"zero":false}}}},
{"data":{"name":"dt"},"transform":[{"filter":"datum.p==='A'"}],"mark":{"type":"point","filled":true,"color":"#000000","size":70,"opacity":1},"encoding":{"x":{"field":"t","type":"quantitative","scale":{"domain":[0,3.5],"nice":false,"zero":false}},"y":{"field":"v","type":"quantitative","scale":{"domain":[-12,20],"nice":false,"zero":false}}}},
{"data":{"name":"hd"},"transform":[{"filter":"datum.p==='A'"}],"mark":{"type":"text","align":"center","baseline":"alphabetic","fontSize":16,"fontWeight":"bold","color":"#111111"},"encoding":{"x":{"datum":1.75,"type":"quantitative","scale":{"domain":[0,3.5],"nice":false,"zero":false}},"y":{"datum":21.46,"type":"quantitative","scale":{"domain":[-12,20],"nice":false,"zero":false}},"text":{"field":"ti"}}},
{"data":{"name":"hd"},"transform":[{"filter":"datum.p==='A'"}],"mark":{"type":"text","align":"left","baseline":"alphabetic","fontSize":20,"fontWeight":"bold","color":"#000000"},"encoding":{"x":{"datum":-0.561,"type":"quantitative","scale":{"domain":[0,3.5],"nice":false,"zero":false}},"y":{"datum":21.46,"type":"quantitative","scale":{"domain":[-12,20],"nice":false,"zero":false}},"text":{"field":"le"}}}
]
},
{
"width":370,"height":219,
"resolve":{"scale":{"y":"independent"}},
"layer":[
{"layer":[
{"data":{"name":"vl"},"transform":[{"filter":"datum.p==='B'"}],"mark":{"type":"rule","color":"#a6a6a6","strokeWidth":2.5},"encoding":{"x":{"field":"t","type":"quantitative","scale":{"domain":[0,3.5],"nice":false,"zero":false}}}},
{"data":{"name":"tr"},"transform":[{"filter":"datum.p==='B' && (datum.s==='REe' || datum.s==='LEe')"}],"mark":{"type":"line","interpolate":"step-after","strokeDash":[7,5],"strokeWidth":1.5},"encoding":{"x":{"field":"t","type":"quantitative","scale":{"domain":[0,3.5],"nice":false,"zero":false}},"y":{"field":"v","type":"quantitative","scale":{"domain":[-12,20],"nice":false,"zero":false}},"color":{"field":"s","type":"nominal","scale":{"domain":["REe","LEe","REa","LEa","Verg","Conj"],"range":["#e466e4","#6b6bd9","#ee1aee","#1414d6","#38dc38","#28ecec"]},"legend":null}}},
{"data":{"name":"tr"},"transform":[{"filter":"datum.p==='B' && datum.s!=='REe' && datum.s!=='LEe'"}],"mark":{"type":"line","strokeWidth":2},"encoding":{"x":{"field":"t","type":"quantitative","scale":{"domain":[0,3.5],"nice":false,"zero":false},"axis":{"values":[0,0.5,1,1.5,2,2.5,3,3.5],"format":"~g","title":null}},"y":{"field":"v","type":"quantitative","scale":{"domain":[-12,20],"nice":false,"zero":false},"axis":{"values":[-10,-5,0,5,10,15,20],"format":"~g","title":null}},"color":{"field":"s","type":"nominal","scale":{"domain":["REe","LEe","REa","LEa","Verg","Conj"],"range":["#e466e4","#6b6bd9","#ee1aee","#1414d6","#38dc38","#28ecec"]},"legend":null}}},
{"data":{"name":"tr"},"transform":[{"filter":"datum.p==='B' && datum.s==='Verg' && datum.t>=0.96"}],"mark":{"type":"line","color":"#000000","strokeDash":[4,3],"strokeWidth":1.2},"encoding":{"x":{"field":"t","type":"quantitative","scale":{"domain":[0,3.5],"nice":false,"zero":false}},"y":{"field":"v","type":"quantitative","scale":{"domain":[-12,20],"nice":false,"zero":false}}}},
{"data":{"name":"st"},"transform":[{"filter":"datum.p==='B'"}],"mark":{"type":"point","shape":"M0,-1L0,1M-1,0L1,0M-0.7,-0.7L0.7,0.7M-0.7,0.7L0.7,-0.7","filled":false,"color":"#46621f","size":30,"strokeWidth":1,"opacity":1},"encoding":{"x":{"field":"t","type":"quantitative","scale":{"domain":[0,3.5],"nice":false,"zero":false}},"y":{"field":"v","type":"quantitative","scale":{"domain":[-12,20],"nice":false,"zero":false}}}},
{"data":{"name":"dt"},"transform":[{"filter":"datum.p==='B'"}],"mark":{"type":"point","filled":true,"color":"#000000","size":70,"opacity":1},"encoding":{"x":{"field":"t","type":"quantitative","scale":{"domain":[0,3.5],"nice":false,"zero":false}},"y":{"field":"v","type":"quantitative","scale":{"domain":[-12,20],"nice":false,"zero":false}}}},
{"data":{"name":"ar"},"transform":[{"filter":"datum.p==='B'"}],"mark":{"type":"rule","strokeWidth":1.4},"encoding":{"x":{"field":"t","type":"quantitative","scale":{"domain":[0,3.5],"nice":false,"zero":false}},"y":{"field":"v","type":"quantitative","scale":{"domain":[-12,20],"nice":false,"zero":false}},"x2":{"field":"t2"},"y2":{"field":"v2"},"stroke":{"field":"k","type":"nominal","scale":{"domain":["v","c"],"range":["#111111","#ee2020"]},"legend":null}}},
{"data":{"name":"ar"},"transform":[{"filter":"datum.p==='B'"}],"mark":{"type":"point","shape":"M0,0L-0.4,1.2L0.4,1.2Z","filled":true,"size":170,"opacity":1,"strokeWidth":0},"encoding":{"x":{"field":"t2","type":"quantitative","scale":{"domain":[0,3.5],"nice":false,"zero":false}},"y":{"field":"v2","type":"quantitative","scale":{"domain":[-12,20],"nice":false,"zero":false}},"angle":{"field":"ang","type":"quantitative","scale":null},"fill":{"field":"k","type":"nominal","scale":{"domain":["v","c"],"range":["#111111","#ee2020"]},"legend":null}}},
{"data":{"name":"nl"},"transform":[{"filter":"datum.p==='B'"}],"mark":{"type":"text","align":"left","baseline":"alphabetic","fontSize":13,"fontWeight":"bold","lineBreak":"\n","lineHeight":16,"color":"#111111"},"encoding":{"x":{"field":"t","type":"quantitative","scale":{"domain":[0,3.5],"nice":false,"zero":false}},"y":{"field":"v","type":"quantitative","scale":{"domain":[-12,20],"nice":false,"zero":false}},"text":{"field":"txt"}}},
{"data":{"name":"nc"},"transform":[{"filter":"datum.p==='B'"}],"mark":{"type":"text","align":"center","baseline":"alphabetic","fontSize":13,"fontWeight":"bold","lineBreak":"\n","lineHeight":16,"color":"#111111"},"encoding":{"x":{"field":"t","type":"quantitative","scale":{"domain":[0,3.5],"nice":false,"zero":false}},"y":{"field":"v","type":"quantitative","scale":{"domain":[-12,20],"nice":false,"zero":false}},"text":{"field":"txt"}}},
{"data":{"name":"hd"},"transform":[{"filter":"datum.p==='B'"}],"mark":{"type":"text","align":"center","baseline":"alphabetic","fontSize":16,"fontWeight":"bold","color":"#111111"},"encoding":{"x":{"datum":1.75,"type":"quantitative","scale":{"domain":[0,3.5],"nice":false,"zero":false}},"y":{"datum":21.46,"type":"quantitative","scale":{"domain":[-12,20],"nice":false,"zero":false}},"text":{"field":"ti"}}},
{"data":{"name":"hd"},"transform":[{"filter":"datum.p==='B'"}],"mark":{"type":"text","align":"left","baseline":"alphabetic","fontSize":20,"fontWeight":"bold","color":"#000000"},"encoding":{"x":{"datum":-0.357,"type":"quantitative","scale":{"domain":[0,3.5],"nice":false,"zero":false}},"y":{"datum":21.46,"type":"quantitative","scale":{"domain":[-12,20],"nice":false,"zero":false}},"text":{"field":"le"}}},
{"data":{"values":[{}]},"mark":{"type":"rule","color":"#262626","strokeWidth":1.5},"encoding":{"x":{"datum":3.5,"type":"quantitative","scale":{"domain":[0,3.5],"nice":false,"zero":false}},"y":{"datum":22.63,"type":"quantitative","scale":{"domain":[-12,20],"nice":false,"zero":false}},"y2":{"datum":0.88}}},
{"data":{"values":[{}]},"mark":{"type":"rule","color":"#262626","strokeWidth":1.5},"encoding":{"x":{"datum":3.5,"type":"quantitative","scale":{"domain":[0,3.5],"nice":false,"zero":false}},"x2":{"datum":4.548},"y":{"datum":22.63,"type":"quantitative","scale":{"domain":[-12,20],"nice":false,"zero":false}}}},
{"data":{"values":[{}]},"mark":{"type":"rule","color":"#262626","strokeWidth":1.5},"encoding":{"x":{"datum":3.5,"type":"quantitative","scale":{"domain":[0,3.5],"nice":false,"zero":false}},"x2":{"datum":4.548},"y":{"datum":0.88,"type":"quantitative","scale":{"domain":[-12,20],"nice":false,"zero":false}}}}
]},
{"data":{"name":"leg"},"layer":[
{"mark":{"type":"rule","strokeWidth":2},"encoding":{"x":{"datum":3.541,"type":"quantitative","scale":{"domain":[0,3.5],"nice":false,"zero":false}},"x2":{"datum":3.888},"y":{"field":"s","type":"nominal","sort":null,"scale":{"type":"point","domain":["REe","LEe","REa","LEa","Verg","Conj"],"range":[-4,121],"padding":0},"axis":null},"color":{"field":"s","type":"nominal","scale":{"domain":["REe","LEe","REa","LEa","Verg","Conj"],"range":["#e466e4","#6b6bd9","#ee1aee","#1414d6","#38dc38","#28ecec"]},"legend":null},"strokeDash":{"field":"s","type":"nominal","scale":{"domain":["REe","LEe","REa","LEa","Verg","Conj"],"range":[[5,3],[5,3],[1,0],[1,0],[1,0],[1,0]]},"legend":null}}},
{"mark":{"type":"text","align":"left","baseline":"middle","fontSize":14.5,"color":"#111111"},"encoding":{"x":{"datum":3.92,"type":"quantitative","scale":{"domain":[0,3.5],"nice":false,"zero":false}},"y":{"field":"s","type":"nominal","sort":null,"scale":{"type":"point","domain":["REe","LEe","REa","LEa","Verg","Conj"],"range":[-4,121],"padding":0},"axis":null},"text":{"field":"lab"}}},
{"mark":{"type":"text","align":"left","baseline":"middle","fontSize":11.5,"dx":20,"dy":8,"color":"#111111"},"encoding":{"x":{"datum":3.92,"type":"quantitative","scale":{"domain":[0,3.5],"nice":false,"zero":false}},"y":{"field":"s","type":"nominal","sort":null,"scale":{"type":"point","domain":["REe","LEe","REa","LEa","Verg","Conj"],"range":[-4,121],"padding":0},"axis":null},"text":{"field":"sub"}}}
]}
]
},
{
"width":370,"height":219,
"layer":[
{"data":{"name":"vl"},"transform":[{"filter":"datum.p==='C'"}],"mark":{"type":"rule","color":"#a6a6a6","strokeWidth":2},"encoding":{"x":{"field":"t","type":"quantitative","scale":{"domain":[0,3.5],"nice":false,"zero":false}}}},
{"data":{"name":"tr"},"transform":[{"filter":"datum.p==='C' && (datum.s==='REe' || datum.s==='LEe')"}],"mark":{"type":"line","interpolate":"step-after","strokeDash":[7,5],"strokeWidth":1.5},"encoding":{"x":{"field":"t","type":"quantitative","scale":{"domain":[0,3.5],"nice":false,"zero":false}},"y":{"field":"v","type":"quantitative","scale":{"domain":[-12,20],"nice":false,"zero":false}},"color":{"field":"s","type":"nominal","scale":{"domain":["REe","LEe","REa","LEa","Verg","Conj"],"range":["#e466e4","#6b6bd9","#ee1aee","#1414d6","#38dc38","#28ecec"]},"legend":null}}},
{"data":{"name":"tr"},"transform":[{"filter":"datum.p==='C' && datum.s!=='REe' && datum.s!=='LEe'"}],"mark":{"type":"line","strokeWidth":2},"encoding":{"x":{"field":"t","type":"quantitative","scale":{"domain":[0,3.5],"nice":false,"zero":false},"axis":{"values":[0,0.5,1,1.5,2,2.5,3,3.5],"format":"~g","title":"Time (s)"}},"y":{"field":"v","type":"quantitative","scale":{"domain":[-12,20],"nice":false,"zero":false},"axis":{"values":[-10,-5,0,5,10,15,20],"format":"~g","title":"Eye position (deg)"}},"color":{"field":"s","type":"nominal","scale":{"domain":["REe","LEe","REa","LEa","Verg","Conj"],"range":["#e466e4","#6b6bd9","#ee1aee","#1414d6","#38dc38","#28ecec"]},"legend":null}}},
{"data":{"name":"tr"},"transform":[{"filter":"datum.p==='C' && datum.s==='Verg' && datum.t>=1.45"}],"mark":{"type":"line","color":"#000000","strokeDash":[4,3],"strokeWidth":1.2},"encoding":{"x":{"field":"t","type":"quantitative","scale":{"domain":[0,3.5],"nice":false,"zero":false}},"y":{"field":"v","type":"quantitative","scale":{"domain":[-12,20],"nice":false,"zero":false}}}},
{"data":{"name":"st"},"transform":[{"filter":"datum.p==='C'"}],"mark":{"type":"point","shape":"M0,-1L0,1M-1,0L1,0M-0.7,-0.7L0.7,0.7M-0.7,0.7L0.7,-0.7","filled":false,"color":"#46621f","size":30,"strokeWidth":1,"opacity":1},"encoding":{"x":{"field":"t","type":"quantitative","scale":{"domain":[0,3.5],"nice":false,"zero":false}},"y":{"field":"v","type":"quantitative","scale":{"domain":[-12,20],"nice":false,"zero":false}}}},
{"data":{"name":"dt"},"transform":[{"filter":"datum.p==='C'"}],"mark":{"type":"point","filled":true,"color":"#000000","size":70,"opacity":1},"encoding":{"x":{"field":"t","type":"quantitative","scale":{"domain":[0,3.5],"nice":false,"zero":false}},"y":{"field":"v","type":"quantitative","scale":{"domain":[-12,20],"nice":false,"zero":false}}}},
{"data":{"name":"ar"},"transform":[{"filter":"datum.p==='C'"}],"mark":{"type":"rule","strokeWidth":1.4},"encoding":{"x":{"field":"t","type":"quantitative","scale":{"domain":[0,3.5],"nice":false,"zero":false}},"y":{"field":"v","type":"quantitative","scale":{"domain":[-12,20],"nice":false,"zero":false}},"x2":{"field":"t2"},"y2":{"field":"v2"},"stroke":{"field":"k","type":"nominal","scale":{"domain":["v","c"],"range":["#111111","#ee2020"]},"legend":null}}},
{"data":{"name":"ar"},"transform":[{"filter":"datum.p==='C'"}],"mark":{"type":"point","shape":"M0,0L-0.4,1.2L0.4,1.2Z","filled":true,"size":170,"opacity":1,"strokeWidth":0},"encoding":{"x":{"field":"t2","type":"quantitative","scale":{"domain":[0,3.5],"nice":false,"zero":false}},"y":{"field":"v2","type":"quantitative","scale":{"domain":[-12,20],"nice":false,"zero":false}},"angle":{"field":"ang","type":"quantitative","scale":null},"fill":{"field":"k","type":"nominal","scale":{"domain":["v","c"],"range":["#111111","#ee2020"]},"legend":null}}},
{"data":{"name":"nl"},"transform":[{"filter":"datum.p==='C'"}],"mark":{"type":"text","align":"left","baseline":"alphabetic","fontSize":13,"fontWeight":"bold","lineBreak":"\n","lineHeight":16,"color":"#111111"},"encoding":{"x":{"field":"t","type":"quantitative","scale":{"domain":[0,3.5],"nice":false,"zero":false}},"y":{"field":"v","type":"quantitative","scale":{"domain":[-12,20],"nice":false,"zero":false}},"text":{"field":"txt"}}},
{"data":{"name":"hd"},"transform":[{"filter":"datum.p==='C'"}],"mark":{"type":"text","align":"center","baseline":"alphabetic","fontSize":16,"fontWeight":"bold","color":"#111111"},"encoding":{"x":{"datum":1.75,"type":"quantitative","scale":{"domain":[0,3.5],"nice":false,"zero":false}},"y":{"datum":21.46,"type":"quantitative","scale":{"domain":[-12,20],"nice":false,"zero":false}},"text":{"field":"ti"}}},
{"data":{"name":"hd"},"transform":[{"filter":"datum.p==='C'"}],"mark":{"type":"text","align":"left","baseline":"alphabetic","fontSize":20,"fontWeight":"bold","color":"#000000"},"encoding":{"x":{"datum":-0.558,"type":"quantitative","scale":{"domain":[0,3.5],"nice":false,"zero":false}},"y":{"datum":21.8,"type":"quantitative","scale":{"domain":[-12,20],"nice":false,"zero":false}},"text":{"field":"le"}}}
]
},
{
"width":370,"height":219,
"layer":[
{"data":{"name":"vl"},"transform":[{"filter":"datum.p==='D'"}],"mark":{"type":"rule","color":"#a6a6a6","strokeWidth":2},"encoding":{"x":{"field":"t","type":"quantitative","scale":{"domain":[0,3.5],"nice":false,"zero":false}}}},
{"data":{"name":"tr"},"transform":[{"filter":"datum.p==='D' && (datum.s==='REe' || datum.s==='LEe')"}],"mark":{"type":"line","interpolate":"step-after","strokeDash":[7,5],"strokeWidth":1.5},"encoding":{"x":{"field":"t","type":"quantitative","scale":{"domain":[0,3.5],"nice":false,"zero":false}},"y":{"field":"v","type":"quantitative","scale":{"domain":[-12,20],"nice":false,"zero":false}},"color":{"field":"s","type":"nominal","scale":{"domain":["REe","LEe","REa","LEa","Verg","Conj"],"range":["#e466e4","#6b6bd9","#ee1aee","#1414d6","#38dc38","#28ecec"]},"legend":null}}},
{"data":{"name":"tr"},"transform":[{"filter":"datum.p==='D' && datum.s!=='REe' && datum.s!=='LEe'"}],"mark":{"type":"line","strokeWidth":2},"encoding":{"x":{"field":"t","type":"quantitative","scale":{"domain":[0,3.5],"nice":false,"zero":false},"axis":{"values":[0,0.5,1,1.5,2,2.5,3,3.5],"format":"~g","title":"Time (s)"}},"y":{"field":"v","type":"quantitative","scale":{"domain":[-12,20],"nice":false,"zero":false},"axis":{"values":[-10,-5,0,5,10,15,20],"format":"~g","title":null}},"color":{"field":"s","type":"nominal","scale":{"domain":["REe","LEe","REa","LEa","Verg","Conj"],"range":["#e466e4","#6b6bd9","#ee1aee","#1414d6","#38dc38","#28ecec"]},"legend":null}}},
{"data":{"name":"tr"},"transform":[{"filter":"datum.p==='D' && datum.s==='Verg' && datum.t>=1.6"}],"mark":{"type":"line","color":"#000000","strokeDash":[4,3],"strokeWidth":1.2},"encoding":{"x":{"field":"t","type":"quantitative","scale":{"domain":[0,3.5],"nice":false,"zero":false}},"y":{"field":"v","type":"quantitative","scale":{"domain":[-12,20],"nice":false,"zero":false}}}},
{"data":{"name":"st"},"transform":[{"filter":"datum.p==='D'"}],"mark":{"type":"point","shape":"M0,-1L0,1M-1,0L1,0M-0.7,-0.7L0.7,0.7M-0.7,0.7L0.7,-0.7","filled":false,"color":"#46621f","size":30,"strokeWidth":1,"opacity":1},"encoding":{"x":{"field":"t","type":"quantitative","scale":{"domain":[0,3.5],"nice":false,"zero":false}},"y":{"field":"v","type":"quantitative","scale":{"domain":[-12,20],"nice":false,"zero":false}}}},
{"data":{"name":"dt"},"transform":[{"filter":"datum.p==='D'"}],"mark":{"type":"point","filled":true,"color":"#000000","size":70,"opacity":1},"encoding":{"x":{"field":"t","type":"quantitative","scale":{"domain":[0,3.5],"nice":false,"zero":false}},"y":{"field":"v","type":"quantitative","scale":{"domain":[-12,20],"nice":false,"zero":false}}}},
{"data":{"name":"ar"},"transform":[{"filter":"datum.p==='D'"}],"mark":{"type":"rule","strokeWidth":1.4},"encoding":{"x":{"field":"t","type":"quantitative","scale":{"domain":[0,3.5],"nice":false,"zero":false}},"y":{"field":"v","type":"quantitative","scale":{"domain":[-12,20],"nice":false,"zero":false}},"x2":{"field":"t2"},"y2":{"field":"v2"},"stroke":{"field":"k","type":"nominal","scale":{"domain":["v","c"],"range":["#111111","#ee2020"]},"legend":null}}},
{"data":{"name":"ar"},"transform":[{"filter":"datum.p==='D'"}],"mark":{"type":"point","shape":"M0,0L-0.4,1.2L0.4,1.2Z","filled":true,"size":170,"opacity":1,"strokeWidth":0},"encoding":{"x":{"field":"t2","type":"quantitative","scale":{"domain":[0,3.5],"nice":false,"zero":false}},"y":{"field":"v2","type":"quantitative","scale":{"domain":[-12,20],"nice":false,"zero":false}},"angle":{"field":"ang","type":"quantitative","scale":null},"fill":{"field":"k","type":"nominal","scale":{"domain":["v","c"],"range":["#111111","#ee2020"]},"legend":null}}},
{"data":{"name":"nl"},"transform":[{"filter":"datum.p==='D'"}],"mark":{"type":"text","align":"left","baseline":"alphabetic","fontSize":13,"fontWeight":"bold","lineBreak":"\n","lineHeight":16,"color":"#111111"},"encoding":{"x":{"field":"t","type":"quantitative","scale":{"domain":[0,3.5],"nice":false,"zero":false}},"y":{"field":"v","type":"quantitative","scale":{"domain":[-12,20],"nice":false,"zero":false}},"text":{"field":"txt"}}},
{"data":{"name":"nc"},"transform":[{"filter":"datum.p==='D'"}],"mark":{"type":"text","align":"center","baseline":"alphabetic","fontSize":13,"fontWeight":"bold","lineBreak":"\n","lineHeight":16,"color":"#111111"},"encoding":{"x":{"field":"t","type":"quantitative","scale":{"domain":[0,3.5],"nice":false,"zero":false}},"y":{"field":"v","type":"quantitative","scale":{"domain":[-12,20],"nice":false,"zero":false}},"text":{"field":"txt"}}},
{"data":{"name":"hd"},"transform":[{"filter":"datum.p==='D'"}],"mark":{"type":"text","align":"center","baseline":"alphabetic","fontSize":16,"fontWeight":"bold","color":"#111111"},"encoding":{"x":{"datum":1.75,"type":"quantitative","scale":{"domain":[0,3.5],"nice":false,"zero":false}},"y":{"datum":21.46,"type":"quantitative","scale":{"domain":[-12,20],"nice":false,"zero":false}},"text":{"field":"ti"}}},
{"data":{"name":"hd"},"transform":[{"filter":"datum.p==='D'"}],"mark":{"type":"text","align":"left","baseline":"alphabetic","fontSize":20,"fontWeight":"bold","color":"#000000"},"encoding":{"x":{"datum":-0.357,"type":"quantitative","scale":{"domain":[0,3.5],"nice":false,"zero":false}},"y":{"datum":21.8,"type":"quantitative","scale":{"domain":[-12,20],"nice":false,"zero":false}},"text":{"field":"le"}}}
]
}
]
}
